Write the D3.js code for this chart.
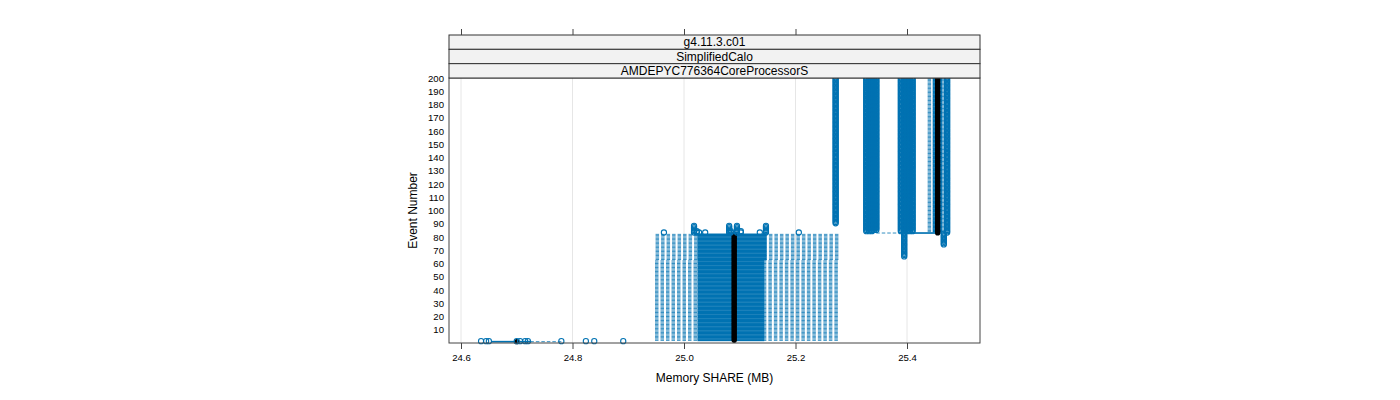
<!DOCTYPE html>
<html>
<head>
<meta charset="utf-8">
<script src="https://d3js.org/d3.v7.min.js"></script>
<style>
  body { margin: 0; background: #fff; }
  text { font-family: "Liberation Sans", Arial, sans-serif; }
</style>
</head>
<body>
<div id="chart"></div>
<script>

// Strip labels (top to bottom)
var stripLabels = ["g4.11.3.c01", "SimplifiedCalo", "AMDEPYC776364CoreProcessorS"];

// Axis ticks
var xTicks = [24.6, 24.8, 25.0, 25.2, 25.4];
var xTickLabels = ["24.6", "24.8", "25.0", "25.2", "25.4"];
var yTicks = d3.range(10, 201, 10);

// Box stats, for runs of event numbers that look alike
// [firstEvent, lastEvent, whiskerLo, q1, median, q3, whiskerHi]
var boxRuns = [
  [1, 1, 24.655, 24.655, 24.700, 24.725, 24.780],
  [2, 62, 24.948, 25.025, 25.090, 25.143, 25.276],
  [63, 82, 24.949, 25.025, 25.090, 25.147, 25.277],
  [83, 83, 25.335, 25.395, 25.455, 25.460, 25.468],
  [84, 200, 25.437, 25.447, 25.455, 25.462, 25.468]
];

// Outliers: [value, firstEvent, lastEvent]
var outlierRuns = [
  [24.636, 1, 1], [24.645, 1, 1], [24.650, 1, 1], [24.700, 1, 1],
  [24.706, 1, 1], [24.715, 1, 1], [24.720, 1, 1], [24.780, 1, 1],
  [24.824, 1, 1], [24.839, 1, 1], [24.891, 1, 1],
  [24.964, 83, 83], [25.018, 83, 88], [25.023, 83, 84], [25.027, 83, 83],
  [25.038, 83, 83], [25.081, 83, 88], [25.084, 83, 84], [25.095, 83, 88],
  [25.102, 83, 84], [25.136, 83, 83], [25.147, 83, 88], [25.206, 83, 83],
  [25.272, 90, 200],
  [25.327, 84, 200], [25.332, 84, 200], [25.337, 84, 200], [25.341, 85, 200], [25.345, 85, 200],
  [25.389, 84, 200], [25.395, 65, 200], [25.400, 84, 200], [25.405, 84, 200], [25.410, 84, 200],
  [25.466, 74, 82], [25.472, 83, 200]
];

var blue = "#0072B2";

// Page geometry
var W = 1400, H = 400;
var pL = 449, pR = 980, pT = 78, pB = 343;
var stripH = (pT - 35) / 3;

var svg = d3.select("#chart").append("svg")
  .attr("width", W)
  .attr("height", H);

var x = d3.scaleLinear().domain([24.6, 25.4]).range([461, 907]);
x.domain([x.invert(pL), x.invert(pR)]).range([pL, pR]);
var y = d3.scaleLinear().domain([0, 200]).range([pB, pT]);

// expand the runs into one entry per event
var rows = [];
boxRuns.forEach(function(r) {
  for (var e = r[0]; e <= r[1]; e++)
    rows.push({ev: e, lo: r[2], q1: r[3], med: r[4], q3: r[5], hi: r[6]});
});
var outs = [];
outlierRuns.forEach(function(o) {
  for (var e = o[1]; e <= o[2]; e++) outs.push({ev: e, v: o[0]});
});

// grid
svg.append("g").selectAll("line").data(xTicks).enter().append("line")
  .attr("x1", function(d) { return x(d); }).attr("x2", function(d) { return x(d); })
  .attr("y1", pT).attr("y2", pB)
  .attr("stroke", "#e6e6e6").attr("stroke-width", 1);

var boxH = (y(0) - y(1)) * 0.5;
var plot = svg.append("g");

// whiskers (dashed)
plot.selectAll("line.wl").data(rows).enter().append("line")
  .attr("x1", function(d) { return x(d.lo); }).attr("x2", function(d) { return x(d.q1); })
  .attr("y1", function(d) { return y(d.ev); }).attr("y2", function(d) { return y(d.ev); })
  .attr("stroke", blue).attr("stroke-width", 1).attr("stroke-dasharray", "3.5,2")
  .attr("stroke-opacity", 0.8);
plot.selectAll("line.wh").data(rows).enter().append("line")
  .attr("x1", function(d) { return x(d.hi); }).attr("x2", function(d) { return x(d.q3); })
  .attr("y1", function(d) { return y(d.ev); }).attr("y2", function(d) { return y(d.ev); })
  .attr("stroke", blue).attr("stroke-width", 1).attr("stroke-dasharray", "3.5,2")
  .attr("stroke-opacity", 0.8);

// boxes
plot.selectAll("rect.box").data(rows).enter().append("rect")
  .attr("x", function(d) { return x(d.q1); })
  .attr("width", function(d) { return x(d.q3) - x(d.q1); })
  .attr("y", function(d) { return y(d.ev) - boxH / 2; })
  .attr("height", boxH)
  .attr("fill", "none").attr("stroke", blue).attr("stroke-width", 1);

// medians
plot.selectAll("circle.med").data(rows).enter().append("circle")
  .attr("cx", function(d) { return x(d.med); })
  .attr("cy", function(d) { return y(d.ev); })
  .attr("r", 2.6).attr("fill", "#000");

// outliers
plot.selectAll("circle.out").data(outs).enter().append("circle")
  .attr("cx", function(d) { return x(d.v); })
  .attr("cy", function(d) { return y(d.ev) - 0.5; })
  .attr("r", 2.6).attr("fill", "none").attr("stroke", blue).attr("stroke-width", 1.1);

// panel border
svg.append("rect").attr("x", pL).attr("y", pT).attr("width", pR - pL).attr("height", pB - pT)
  .attr("fill", "none").attr("stroke", "#444").attr("stroke-width", 1);

// strips
var strips = svg.append("g");
stripLabels.forEach(function(s, i) {
  var top = 35 + i * stripH;
  strips.append("rect").attr("x", pL).attr("y", top).attr("width", pR - pL).attr("height", stripH)
    .attr("fill", "#f2f2f2").attr("stroke", "#333").attr("stroke-width", 1);
  strips.append("text").attr("x", (pL + pR) / 2).attr("y", top + stripH / 2 + 4.3)
    .attr("text-anchor", "middle").attr("font-size", 12).text(s);
});

// bottom axis
var xAxis = d3.axisBottom(x).tickValues(xTicks)
  .tickFormat(function(d, i) { return xTickLabels[i]; }).tickSize(6).tickPadding(5);
var gx = svg.append("g").attr("transform", "translate(0," + pB + ")").call(xAxis);
gx.select(".domain").remove();
gx.selectAll("text").attr("font-size", 9.6).attr("font-family", "Liberation Sans, Arial, sans-serif").attr("fill", "#000");
gx.selectAll("line").attr("stroke", "#444");

// top ticks (no labels)
var xTop = d3.axisTop(x).tickValues(xTicks).tickFormat("").tickSize(6);
var gt = svg.append("g").attr("transform", "translate(0,35)").call(xTop);
gt.select(".domain").remove();
gt.selectAll("line").attr("stroke", "#444");

// left axis
var yAxis = d3.axisLeft(y).tickValues(yTicks).tickSize(0).tickPadding(5);
var gy = svg.append("g").attr("transform", "translate(" + pL + ",0)").call(yAxis);
gy.select(".domain").remove();
gy.selectAll("text").attr("font-size", 9.6).attr("font-family", "Liberation Sans, Arial, sans-serif").attr("fill", "#000");

// axis titles
svg.append("text").attr("x", (pL + pR) / 2).attr("y", 382)
  .attr("text-anchor", "middle").attr("font-size", 12).text("Memory SHARE (MB)");
svg.append("text").attr("transform", "translate(417," + ((pT + pB) / 2) + ") rotate(-90)")
  .attr("text-anchor", "middle").attr("font-size", 12).text("Event Number");

</script>
</body>
</html>
